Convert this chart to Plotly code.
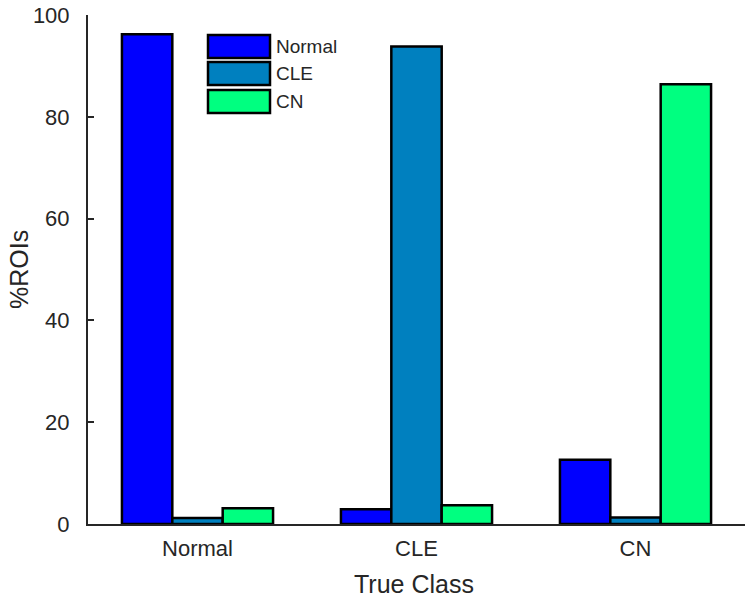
import plotly.graph_objects as go

categories = ["Normal", "CLE", "CN"]
series_names = ["Normal", "CLE", "CN"]
pred_normal = [96.2, 2.9, 12.6]
pred_cle = [1.2, 93.8, 1.3]
pred_cn = [3.1, 3.7, 86.4]
colors = ["#0000FF", "#0080BF", "#00FF80"]
y_ticks = [0, 20, 40, 60, 80, 100]

W, H = 750, 600
L, R, T, B = 88, 5, 15, 76
pw, ph = W - L - R, H - T - B

fig = go.Figure()
for name, vals, col in zip(series_names, [pred_normal, pred_cle, pred_cn], colors):
    fig.add_trace(go.Bar(
        x=[1, 2, 3], y=vals, name=name,
        marker=dict(color=col, line=dict(color="black", width=2.5)),
        showlegend=False,
    ))

def px(x):
    return (x - L) / pw

def py(y):
    return 1 - (y - T) / ph

# manual MATLAB-style legend
rows = [(35, 58), (62, 85), (90, 113)]
for (y0, y1), name, col in zip(rows, series_names, colors):
    fig.add_shape(type="rect", xref="paper", yref="paper",
                  x0=px(208), x1=px(270), y0=py(y1), y1=py(y0),
                  fillcolor=col, line=dict(color="black", width=2.5))
    fig.add_annotation(xref="paper", yref="paper", x=px(274), y=py((y0 + y1) / 2),
                       text=name, showarrow=False, xanchor="left", yanchor="middle",
                       font=dict(family="Liberation Sans, Arial", size=19, color="#262626"))

# axis titles placed as annotations so they don't disturb the margins
fig.add_annotation(xref="paper", yref="paper", x=px(414), y=py(584),
                   text="True Class", showarrow=False, xanchor="center", yanchor="middle",
                   font=dict(family="Liberation Sans, Arial", size=25, color="#262626"))
fig.add_annotation(xref="paper", yref="paper", x=px(19), y=py(270),
                   text="%ROIs", showarrow=False, xanchor="center", yanchor="middle",
                   textangle=-90,
                   font=dict(family="Liberation Sans, Arial", size=25, color="#262626"))

fig.update_layout(
    width=W, height=H,
    margin=dict(l=L, r=R, t=T, b=B, autoexpand=False),
    paper_bgcolor="white", plot_bgcolor="white",
    barmode="group", bargap=0.31, bargroupgap=0,
    font=dict(family="Liberation Sans, Arial", size=22, color="#262626"),
)
fig.update_xaxes(
    range=[0.5, 3.5], tickvals=[1, 2, 3], ticktext=categories,
    showline=True, linecolor="#262626", linewidth=2,
    ticks="", showgrid=False, zeroline=False, automargin=False,
    tickfont=dict(size=22), ticklabelstandoff=4,
)
fig.update_yaxes(
    range=[0, 100], tickvals=y_ticks,
    showline=True, linecolor="#262626", linewidth=2,
    ticks="inside", ticklen=6, tickwidth=2, tickcolor="#262626",
    showgrid=False, zeroline=False, automargin=False,
    tickfont=dict(size=22), ticklabelstandoff=12, ticklabeloverflow="allow",
)

fig.write_html("out.html", config={"displayModeBar": False})

# remove the browser's default body margin so the figure sits at the page origin
with open("out.html", "r", encoding="utf-8") as f:
    html = f.read()
html = html.replace("<head>", "<head><style>html,body{margin:0;padding:0;overflow:hidden;}</style>", 1)
with open("out.html", "w", encoding="utf-8") as f:
    f.write(html)
